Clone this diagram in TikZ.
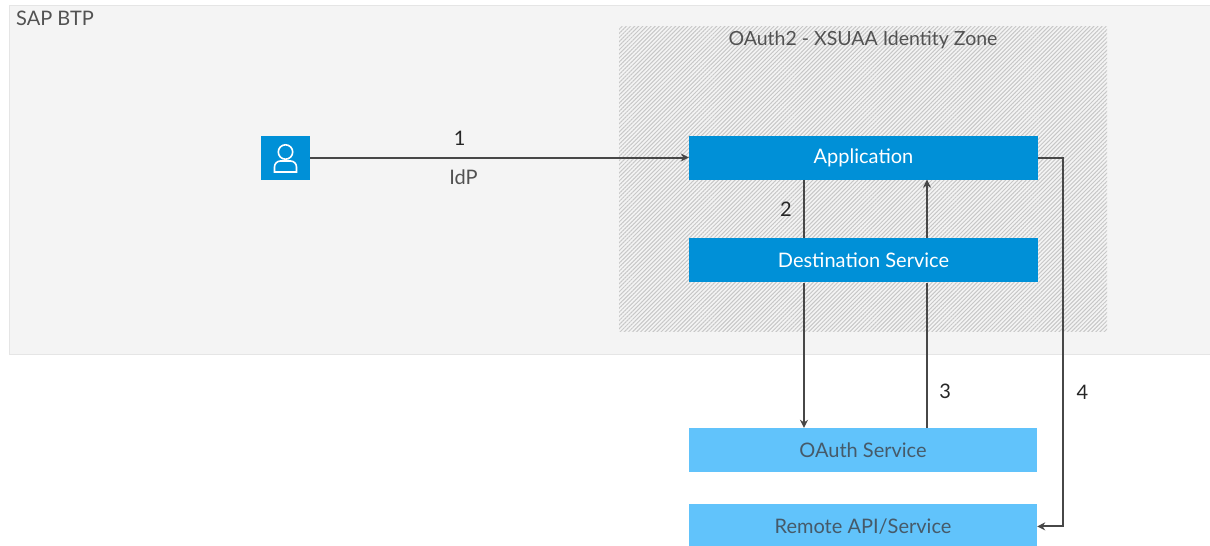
\documentclass[tikz,border=0pt]{standalone}
\usepackage{fontspec}
\setmainfont{Lato}
\usetikzlibrary{positioning, arrows.meta, calc, patterns.meta}
\definecolor{sapblue}{HTML}{0090D7}
\definecolor{saplight}{HTML}{61C3FB}
\definecolor{sapgrey}{HTML}{F4F4F4}
\definecolor{sapline}{HTML}{474747}
\definecolor{saptext}{HTML}{465A69}
\tikzset{
  flow/.style={
	x=1pt, y=-1pt,
	every node/.style={font=\fontsize{20pt}{24pt}\selectfont, text=black!68},
	>={Stealth[length=8pt, width=8pt]}, % small solid heads
  },
  conn/.style={draw=sapline, line width=2pt},
  darkbox/.style={fill=sapblue, text=white, minimum width=349pt, minimum height=44pt, inner sep=0pt},
  lightbox/.style={fill=saplight, text=saptext, minimum width=348pt, minimum height=44pt, inner sep=0pt},
  steplabel/.style={text=black!85},
}

\begin{document}
\begin{tikzpicture}[flow]
\useasboundingbox (0,0) rectangle (1210,546);

% areas
\node[draw=black!10, fill=sapgrey, minimum width=1206pt, minimum height=349pt, inner sep=0pt, anchor=north west] (btp) at (8.5,4.5) {};
\node[anchor=north west, inner sep=0pt] (btplabel) at (16,10.5) {SAP BTP};
\node[pattern={Lines[angle=45, distance=2.9pt, line width=1pt]}, pattern color=black!22, minimum width=488pt, minimum height=305pt, inner sep=0pt, anchor=north west] (zone) at (618.5,25.5) {};
\node[below=5pt of zone.north, inner sep=0pt, font=\fontsize{19.5pt}{24pt}\selectfont] (zonelabel) {OAuth2 - XSUAA Identity Zone};

% boxes
\node[darkbox] (app) at (863.5,157.5) {Application};
\node[darkbox, below=58.5pt of app] (dest) {Destination Service};
\node[lightbox] (oauth) at (863,450) {OAuth Service};
\node[lightbox, below=32pt of oauth] (remote) {Remote API/Service};
\node[fill=sapblue, minimum width=49pt, minimum height=44pt, inner sep=0pt] (user) at (285.5,157.5) {};

% person
\draw[white, line width=1.6pt] ([yshift=5.5pt]user.center) circle (7.2pt);
\draw[white, line width=1.6pt] ([xshift=-11pt,yshift=-14.5pt]user.center) [rounded corners=6pt] -- ++(0,-11) -- ++(22,0) [sharp corners] -- ++(0,11) -- cycle;

% connectors
\draw[conn, ->] (user) -- node[pos=0.395, above=8pt, steplabel] (one) {1} node[pos=0.405, below=8pt] (idp) {IdP} (app);
\draw[conn] ([xshift=-59.5pt]app.south) -- node[left=8pt, steplabel] (two) {2} ([xshift=-59.5pt]dest.north);
\draw[conn, ->] ([xshift=-59.5pt]dest.south) -- ([xshift=-59pt]oauth.north);
\draw[conn] ([xshift=64pt]oauth.north) -- node[pos=0.25, right=8pt, steplabel] (three) {3} ([xshift=63.5pt]dest.south);
\draw[conn, ->] ([xshift=63.5pt]dest.north) -- ([xshift=63.5pt]app.south);
\draw[conn, ->] (app.east) -- ++(25,0) coordinate (corner) |- node[pos=0.318, right=9pt, steplabel] (four) {4} (remote.east);
\end{tikzpicture}
\end{document}
